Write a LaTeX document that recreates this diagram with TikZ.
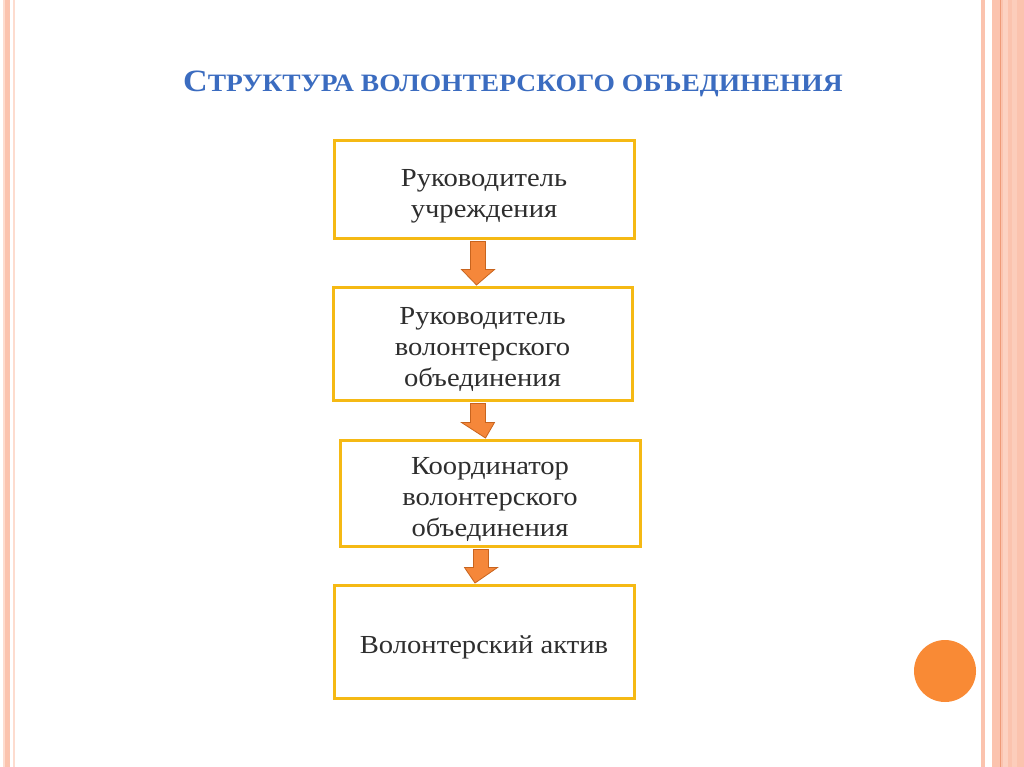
\documentclass[tikz,border=0pt]{standalone}
\usepackage{fontspec}
\setmainfont{Liberation Serif}
\newfontfamily\bodyfont[FakeStretch=1.1]{Liberation Serif}
\newfontfamily\titlefont[FakeStretch=1.1]{Liberation Serif}
\usetikzlibrary{calc}
\definecolor{titleblue}{HTML}{3B6CC0}
\definecolor{boxgold}{HTML}{F5B914}
\definecolor{arrfill}{HTML}{F5873A}
\definecolor{arrdraw}{HTML}{C8641E}
\definecolor{stripe}{HTML}{FBC3AE}
\definecolor{stripelight}{HTML}{FDDCCF}
\definecolor{stripedark}{HTML}{EE9A78}
\definecolor{dotorange}{HTML}{F98A35}
\definecolor{txt}{HTML}{2E2E2E}
\tikzset{
  boxnode/.style={draw=boxgold, line width=3pt, fill=white, inner sep=0pt},
  boxtext/.style={text=txt, align=center, inner sep=0pt,
    font=\bodyfont\fontsize{26}{31}\selectfont},
  arrowshape/.style={fill=arrfill, draw=arrdraw, line width=0.8pt, line join=miter},
}
\newcommand{\downarrowbetween}[3]{%
  \path let \p1=($(#1.south)+(#3,0)$), \p2=($(#2.north)+(#3,0)$) in
    [arrowshape] (\x1-7.5,\y1-2) -- (\x1+7.5,\y1-2) -- (\x1+7.5,\y2+16) -- (\x1+16.5,\y2+16)
    -- (\x2,\y2+0.5) -- (\x1-16.5,\y2+16) -- (\x1-7.5,\y2+16) -- cycle;}
\begin{document}
\begin{tikzpicture}[x=1pt,y=-1pt]
\useasboundingbox (0,0) rectangle (1024,767);
\fill[white] (0,0) rectangle (1024,767);
% left border stripes
\fill[stripelight] (3,0) rectangle (5,767);
\fill[stripe] (5,0) rectangle (10,767);
\fill[stripelight] (13,0) rectangle (15,767);
% right border stripes
\fill[stripe] (981,0) rectangle (985,767);
\fill[stripe] (992,0) rectangle (1024,767);
\fill[stripelight!60!stripe] (1003,0) rectangle (1008,767);
\fill[stripelight!40!stripe] (1012,0) rectangle (1017,767);
\draw[stripedark, line width=1pt] (1000,0) -- (1000,767);
% title
\node[text=titleblue, font=\titlefont\bfseries, anchor=base west, inner sep=0pt] (title) at (183,92)
  {{\fontsize{31}{36}\selectfont С}{\fontsize{25}{30}\selectfont ТРУКТУРА ВОЛОНТЕРСКОГО ОБЪЕДИНЕНИЯ}};
% boxes
\node[boxnode, minimum width=300pt, minimum height=97pt] (b1) at (484,189.5) {};
\node[boxnode, minimum width=299pt, minimum height=113pt] (b2) at (482.5,343.5) {};
\node[boxnode, minimum width=300pt, minimum height=106pt] (b3) at (490,493) {};
\node[boxnode, minimum width=300pt, minimum height=113pt] (b4) at (484,641.5) {};
% box texts
\node[boxtext] (t1) at ([yshift=-7pt]b1.center) {Руководитель\\учреждения};
\node[boxtext] (t2) at ([yshift=-6pt]b2.center) {Руководитель\\волонтерского\\объединения};
\node[boxtext] (t3) at ([yshift=-6pt]b3.center) {Координатор\\волонтерского\\объединения};
\node[boxtext] (t4) at ([yshift=-6pt]b4.center) {Волонтерский актив};
% arrows
\downarrowbetween{b1}{b2}{-6}
\downarrowbetween{b2}{b3}{-4.5}
\downarrowbetween{b3}{b4}{-9}
% decoration circle
\fill[dotorange] (945,671) circle (31);
\end{tikzpicture}
\end{document}
